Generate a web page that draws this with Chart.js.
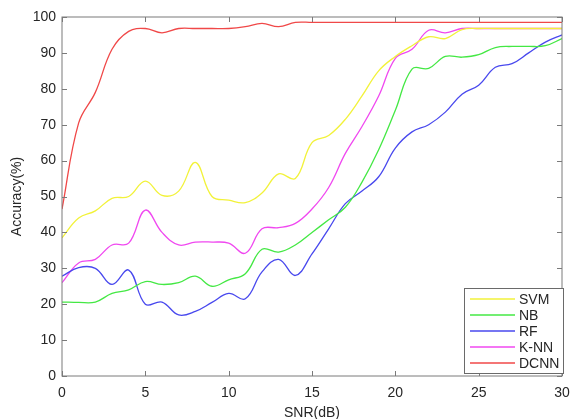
<!DOCTYPE html>
<html>
<head>
<meta charset="utf-8">
<script src="https://cdn.jsdelivr.net/npm/chart.js@4/dist/chart.umd.min.js"></script>
<style>
  html, body { margin: 0; padding: 0; background: #fff; }
  #wrap { width: 571px; height: 419px; }
</style>
</head>
<body>
<div id="wrap"><canvas id="chart" width="571" height="419"></canvas></div>
<script>
// SNR (dB) sample points
const snr = [0,1,2,3,4,5,6,7,8,9,10,11,12,13,14,15,16,17,18,19,20,21,22,23,24,25,26,27,28,29,30];

// accuracy (%) per classifier
const svm  = [38.5,44,46,49.5,50,54.3,50.3,51.5,59.5,50,49,48.3,51,56.3,55,65,67,71.5,78,85,89,92,94.5,94,96.5,96.8,96.8,96.8,96.8,96.8,96.8];
const nb   = [20.6,20.5,20.6,23,24,26.3,25.5,26,27.8,25,26.8,28.5,35.3,34.5,36.5,40,43.5,47,54,63,74,85.5,85.7,89,88.8,89.5,91.5,91.8,91.8,92,94];
const rf   = [27.8,30.2,30,25.5,29.5,20,20.6,17,18,20.5,23,21.5,29,32.5,28,34,41,48,51.5,55.5,63.5,68,70,73.5,78.5,81,86,87,90,93,95];
const knn  = [26,31.5,32.5,36.5,37,46.2,40,36.5,37.3,37.3,37,34.2,41,41.3,42.5,46.5,52.5,62,69.5,78,88.5,91,96.3,95.6,96.8,96.8,96.8,96.8,96.8,96.8,96.8];
const dcnn = [46.5,70.5,79,91,96,96.8,95.6,96.8,96.8,96.8,96.8,97.3,98.2,97.3,98.5,98.5,98.5,98.5,98.5,98.5,98.5,98.5,98.5,98.5,98.5,98.5,98.5,98.5,98.5,98.5,98.5];

const names  = ['SVM','NB','RF','K-NN','DCNN'];
const series = [svm, nb, rf, knn, dcnn];
const colors = ['#f2f23a','#44e844','#4848ee','#f048f0','#f04848'];

const FONT = '"Liberation Sans", Arial, sans-serif';
const AXIS = '#7a7a7a';
const TEXT = '#262626';

// box + inward ticks on all four sides, legend inside bottom-right
const framePlugin = {
  id: 'frame',
  afterDatasetsDraw(chart) {
    const { ctx, chartArea: a, scales: { x, y } } = chart;
    ctx.save();
    ctx.strokeStyle = AXIS;
    ctx.lineWidth = 1;
    ctx.strokeRect(a.left, a.top, a.right - a.left, a.bottom - a.top);
    const t = 5;
    ctx.beginPath();
    x.ticks.forEach(tk => {
      const px = Math.round(x.getPixelForValue(tk.value)) + 0.5;
      ctx.moveTo(px, a.bottom); ctx.lineTo(px, a.bottom - t);
      ctx.moveTo(px, a.top); ctx.lineTo(px, a.top + t);
    });
    y.ticks.forEach(tk => {
      const py = Math.round(y.getPixelForValue(tk.value)) + 0.5;
      ctx.moveTo(a.left, py); ctx.lineTo(a.left + t, py);
      ctx.moveTo(a.right, py); ctx.lineTo(a.right - t, py);
    });
    ctx.stroke();

    // legend
    const w = 99, h = 85;
    const lx = a.right - w + 1, ly = a.bottom - h - 3;
    ctx.fillStyle = '#fff';
    ctx.fillRect(lx, ly, w, h);
    ctx.strokeStyle = '#6a6a6a';
    ctx.strokeRect(lx + 0.5, ly + 0.5, w, h);
    ctx.font = '14px ' + FONT;
    ctx.textBaseline = 'middle';
    chart.data.datasets.forEach((ds, i) => {
      const cy = ly + 11 + i * 16;
      ctx.strokeStyle = ds.borderColor;
      ctx.lineWidth = 1.5;
      ctx.beginPath();
      ctx.moveTo(lx + 6, cy); ctx.lineTo(lx + 51, cy);
      ctx.stroke();
      ctx.fillStyle = TEXT;
      ctx.fillText(ds.label, lx + 55, cy + 1);
    });
    ctx.restore();
  }
};

new Chart(document.getElementById('chart'), {
  type: 'line',
  data: {
    datasets: names.map((n, i) => ({
      label: n,
      data: snr.map((s, k) => ({ x: s, y: series[i][k] })),
      borderColor: colors[i],
      borderWidth: 1.3,
      pointRadius: 0,
      tension: 0.4,
      fill: false
    }))
  },
  options: {
    responsive: false,
    animation: false,
    layout: { padding: { left: 0, right: 9, top: 17, bottom: 0 } },
    plugins: { legend: { display: false }, tooltip: { enabled: false } },
    scales: {
      x: {
        type: 'linear', min: 0, max: 30,
        grid: { display: false, drawTicks: false },
        border: { display: false },
        ticks: { stepSize: 5, padding: 9, color: TEXT, font: { family: FONT, size: 14 } },
        title: { display: true, text: 'SNR(dB)', color: TEXT, padding: { top: 5, bottom: -3 }, font: { family: FONT, size: 14 } },
        afterFit(s) { s.height = 43; s.paddingRight = 0; s.paddingLeft = 0; }
      },
      y: {
        min: 0, max: 100,
        grid: { display: false, drawTicks: false },
        border: { display: false },
        ticks: { stepSize: 10, padding: 6, color: TEXT, font: { family: FONT, size: 14 } },
        title: { display: true, text: 'Accuracy(%)', color: TEXT, padding: { top: 9, bottom: 0 }, font: { family: FONT, size: 14 } },
        afterFit(s) { s.width = 62; s.paddingTop = 0; s.paddingBottom = 0; }
      }
    }
  },
  plugins: [framePlugin]
});
</script>
</body>
</html>
